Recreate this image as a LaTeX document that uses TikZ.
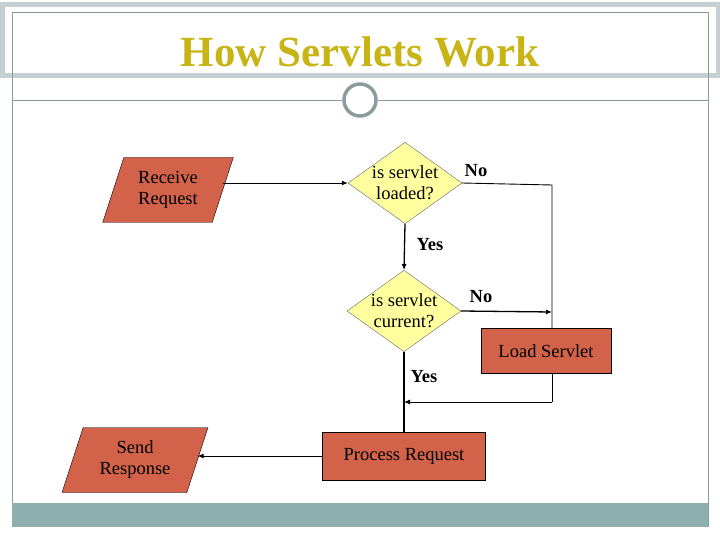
\documentclass[tikz,border=0pt]{standalone}
\usepackage{fontspec}
\setmainfont{Liberation Serif}
\usetikzlibrary{shapes.geometric,arrows.meta}
\definecolor{boxred}{HTML}{D2634A}
\definecolor{diayel}{HTML}{FFFFA0}
\definecolor{titlecol}{HTML}{C8B414}
\definecolor{framegray}{HTML}{C5D0D5}
\definecolor{linegray}{HTML}{8A9C9C}
\definecolor{barcol}{HTML}{8FAFAF}
\tikzset{
  proc/.style={draw=black,fill=boxred,minimum width=130pt,minimum height=45pt,font=\fontsize{18.5}{21}\selectfont},
  io/.style={trapezium,trapezium left angle=72,trapezium right angle=108,draw=black,fill=boxred,
    minimum width=88pt,minimum height=65pt,inner xsep=0pt,align=center,font=\fontsize{18.5}{21}\selectfont},
  dec/.style={diamond,draw=black!60,fill=diayel,minimum width=112pt,minimum height=80pt,aspect=1.4,
    inner sep=0pt,align=center,font=\fontsize{18.5}{21}\selectfont},
  lab/.style={font=\bfseries\fontsize{18.5}{21}\selectfont},
  conn/.style={line width=0.9pt,-{Latex[length=6pt,width=5pt]}},
  wire/.style={line width=0.9pt}
}
\begin{document}
\begin{tikzpicture}[x=1pt,y=-1pt]
  \useasboundingbox (0,0) rectangle (720,540);

  % frame
  \draw[framegray,line width=5pt] (2,5) -- (718,5) -- (718,76) -- (2,76) -- cycle;
  \draw[linegray,thin] (12,12) -- (708,12);
  \draw[linegray,thin] (12,12) -- (12,527);
  \draw[linegray,thin] (708,12) -- (708,527);
  \fill[barcol] (12,503) rectangle (708,527);
  \draw[linegray,thin] (12,100) -- (342,100);
  \draw[linegray,thin] (378,100) -- (708,100);
  \draw[linegray,line width=3.5pt] (360,100) circle (16);
  \node[text=titlecol,font=\bfseries\fontsize{43}{46}\selectfont] (title) at (360,52) {How Servlets Work};

  % flow
  \node[io] (recv) at (168,190) {Receive\\Request};
  \node[dec] (loaded) at (405,183) {is servlet\\loaded?};
  \node[dec] (current) at (404,311) {is servlet\\current?};
  \node[proc] (load) at (546,351) {Load Servlet};
  \node[proc,minimum width=163pt,minimum height=48pt] (process) at (404,456) {Process Request};
  \node[io] (send) at (135,460) {Send\\Response};

  \coordinate (c1) at (552,185);
  \coordinate (c2) at (552,312);
  \coordinate (c3) at (552,402);
  \coordinate (c4) at (404,402);

  \draw[conn] (recv.east |- loaded.west) -- (loaded.west);
  \draw[wire] (loaded.east) -- (c1) -- (load.north -| c1);
  \draw[conn,line width=1.3pt] (loaded.south) -- (current.north);
  \draw[conn,line width=1.3pt] (current.east) -- (c2);
  \draw[wire] (load.south -| c3) -- (c3);
  \draw[conn] (c3) -- (c4);
  \draw[line width=1.3pt] (current.south) -- (process.north);
  \draw[conn] (process.west) -- (send.east |- process.west);

  \node[lab] (no1) at (476,171) {No};
  \node[lab] (yes1) at (430,245) {Yes};
  \node[lab] (no2) at (481,297) {No};
  \node[lab] (yes2) at (424,377) {Yes};
\end{tikzpicture}
\end{document}
